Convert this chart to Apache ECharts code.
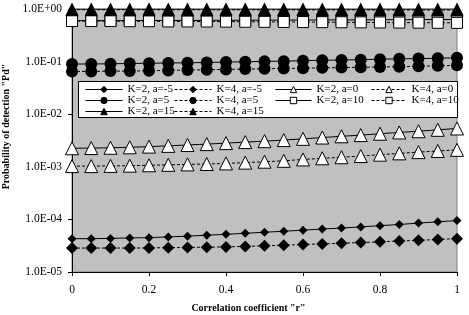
<!DOCTYPE html>
<html>
<head>
<meta charset="utf-8">
<script src="https://cdn.jsdelivr.net/npm/echarts@6/dist/echarts.min.js"></script>
<style>
  html, body { margin: 0; padding: 0; background: #fff; }
  #chart { width: 469px; height: 315px; }
</style>
</head>
<body>
<div id="chart"></div>
<script>
// correlation coefficient r
var rValues = [0, 0.05, 0.1, 0.15, 0.2, 0.25, 0.3, 0.35, 0.4, 0.45, 0.5,
  0.55, 0.6, 0.65, 0.7, 0.75, 0.8, 0.85, 0.9, 0.95, 1];

// Pd
var k2aM5 = [4.3e-5, 4.3e-5, 4.35e-5, 4.45e-5, 4.5e-5, 4.65e-5, 4.8e-5, 5.0e-5, 5.2e-5, 5.45e-5, 5.7e-5,
  5.95e-5, 6.25e-5, 6.55e-5, 6.85e-5, 7.2e-5, 7.6e-5, 8.0e-5, 8.5e-5, 9.0e-5, 9.5e-5];
var k4aM5 = [2.85e-5, 2.85e-5, 2.85e-5, 2.85e-5, 2.87e-5, 2.9e-5, 2.93e-5, 2.97e-5, 3.0e-5, 3.07e-5, 3.15e-5,
  3.23e-5, 3.33e-5, 3.42e-5, 3.52e-5, 3.63e-5, 3.75e-5, 3.88e-5, 4.0e-5, 4.15e-5, 4.3e-5];
var k2a0 = [2.25e-3, 2.27e-3, 2.3e-3, 2.35e-3, 2.42e-3, 2.5e-3, 2.6e-3, 2.7e-3, 2.82e-3, 2.95e-3, 3.07e-3,
  3.22e-3, 3.4e-3, 3.6e-3, 3.8e-3, 4.0e-3, 4.25e-3, 4.5e-3, 4.75e-3, 5.05e-3, 5.35e-3];
var k4a0 = [1.03e-3, 1.03e-3, 1.04e-3, 1.05e-3, 1.07e-3, 1.09e-3, 1.11e-3, 1.13e-3, 1.16e-3, 1.2e-3, 1.25e-3,
  1.3e-3, 1.38e-3, 1.45e-3, 1.52e-3, 1.6e-3, 1.7e-3, 1.8e-3, 1.9e-3, 2.0e-3, 2.1e-3];
var k2a5 = [0.090, 0.090, 0.091, 0.092, 0.093, 0.094, 0.095, 0.096, 0.098, 0.099, 0.101,
  0.102, 0.104, 0.106, 0.107, 0.109, 0.111, 0.113, 0.114, 0.116, 0.118];
var k4a5 = [0.065, 0.065, 0.066, 0.066, 0.067, 0.068, 0.069, 0.070, 0.071, 0.072, 0.073,
  0.074, 0.075, 0.076, 0.077, 0.078, 0.079, 0.080, 0.082, 0.083, 0.085];
var k2a10 = [0.60, 0.60, 0.60, 0.60, 0.605, 0.605, 0.605, 0.61, 0.61, 0.61, 0.615,
  0.615, 0.615, 0.62, 0.62, 0.62, 0.625, 0.625, 0.63, 0.63, 0.63];
var k4a10 = [0.59, 0.59, 0.59, 0.585, 0.585, 0.58, 0.58, 0.578, 0.575, 0.572, 0.57,
  0.567, 0.565, 0.562, 0.56, 0.557, 0.555, 0.552, 0.55, 0.547, 0.545];
var k2a15 = [0.995, 0.995, 0.995, 0.995, 0.995, 0.995, 0.995, 0.995, 0.995, 0.995, 0.995,
  0.995, 0.995, 0.995, 0.995, 0.995, 0.995, 0.995, 0.995, 0.995, 0.995];
var k4a15 = [0.97, 0.97, 0.97, 0.97, 0.97, 0.968, 0.968, 0.968, 0.966, 0.966, 0.965,
  0.964, 0.963, 0.962, 0.961, 0.96, 0.959, 0.958, 0.957, 0.956, 0.955];

var font = "Liberation Serif";

function pairs(vals) {
  var out = [];
  for (var i = 0; i < rValues.length; i++) out.push([rValues[i], vals[i]]);
  return out;
}

// one line series, K=4 ones are dashed
function mkSeries(name, vals, symbol, size, dashed, fill) {
  return {
    name: name,
    type: "line",
    data: pairs(vals),
    symbol: symbol,
    symbolSize: size,
    showAllSymbol: true,
    color: "#000",
    lineStyle: { color: "#000", width: 1, type: dashed ? [3, 2] : "solid" },
    itemStyle: { color: fill, borderColor: "#000", borderWidth: fill === "#fff" ? 1 : 0 },
    emphasis: { disabled: true },
    animation: false
  };
}

function expLabel(v) {
  var e = Math.round(Math.log10(v));
  return "1.0E" + (e < 0 ? "-" : "+") + String(Math.abs(e)).padStart(2, "0");
}

function mkLegend(left, width, names) {
  return {
    orient: "vertical",
    left: left,
    top: 79,
    itemWidth: width,
    itemHeight: 8,
    itemGap: 0,
    data: names,
    itemStyle: { borderWidth: 1 },
    lineStyle: { width: 1 },
    textStyle: { fontFamily: font, fontSize: 11, color: "#000" },
    selectedMode: false
  };
}

var option = {
  backgroundColor: "#fff",
  animation: false,
  grid: {
    left: 72, right: 12, top: 9, bottom: 43,
    outerBoundsMode: "none",
    containLabel: false,
    show: true, backgroundColor: "#c0c0c0", borderColor: "#808080", borderWidth: 1
  },
  graphic: [{
    type: "rect", z: 3,
    shape: { x: 78.5, y: 81.5, width: 379, height: 36 },
    style: { fill: "#fff", stroke: "#000", lineWidth: 1 }
  }],
  legend: [
    mkLegend(80, 37, ["K=2, a=-5", "K=2, a=5", "K=2, a=15"]),
    mkLegend(169, 37, ["K=4, a=-5", "K=4, a=5", "K=4, a=15"]),
    mkLegend(270, 36, ["K=2, a=0", "K=2, a=10"]),
    mkLegend(366, 35, ["K=4, a=0", "K=4, a=10"])
  ],
  xAxis: {
    type: "value", min: 0, max: 1, interval: 0.2,
    name: "Correlation coefficient \"r\"",
    nameLocation: "middle", nameGap: 31,
    nameTextStyle: { fontFamily: font, fontSize: 10, fontWeight: "bold", color: "#000", padding: [0, 32, 0, 0] },
    axisLine: { lineStyle: { color: "#000", width: 1 } },
    axisTick: { show: true, inside: false, length: 4, lineStyle: { color: "#000" } },
    axisLabel: { fontFamily: font, fontSize: 11.5, color: "#000", margin: 12 },
    splitLine: { show: false }
  },
  yAxis: {
    type: "log", min: 1e-5, max: 1, logBase: 10,
    name: "Probability of detection \"Pd\"",
    nameLocation: "middle", nameGap: 58,
    nameTextStyle: { fontFamily: font, fontSize: 10, fontWeight: "bold", color: "#000", padding: [0, 0, 0, 28] },
    axisLine: { show: true, lineStyle: { color: "#000", width: 1 } },
    axisTick: { show: true, inside: false, length: 4, lineStyle: { color: "#000" } },
    axisLabel: { fontFamily: font, fontSize: 11.5, color: "#000", margin: 10, formatter: expLabel },
    splitLine: { show: false },
    minorTick: { show: false }
  },
  series: [
    mkSeries("K=2, a=-5", k2aM5, "diamond", 9, false, "#000"),
    mkSeries("K=4, a=-5", k4aM5, "diamond", 12, true, "#000"),
    mkSeries("K=2, a=0", k2a0, "triangle", 13, false, "#fff"),
    mkSeries("K=4, a=0", k4a0, "triangle", 13, true, "#fff"),
    mkSeries("K=2, a=5", k2a5, "circle", 12, false, "#000"),
    mkSeries("K=4, a=5", k4a5, "circle", 12, true, "#000"),
    mkSeries("K=2, a=10", k2a10, "rect", 11, false, "#fff"),
    mkSeries("K=4, a=10", k4a10, "rect", 11, true, "#fff"),
    mkSeries("K=2, a=15", k2a15, "triangle", 13, false, "#000"),
    mkSeries("K=4, a=15", k4a15, "triangle", 13, true, "#000")
  ]
};

var myChart = echarts.init(document.getElementById("chart"));
myChart.setOption(option);
</script>
</body>
</html>
